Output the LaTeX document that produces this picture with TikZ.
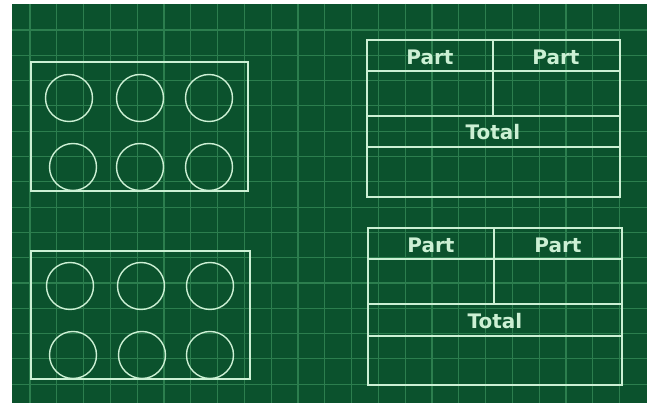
\documentclass[tikz,border=0pt]{standalone}
\usepackage{fontspec}
\newfontfamily\boardfont{DejaVu Sans}
\usetikzlibrary{positioning}
\definecolor{BoardGreen}{RGB}{11,82,45}
\definecolor{GridGreen}{RGB}{44,126,78}
\definecolor{ChalkWhite}{RGB}{204,240,212}
\tikzset{
  board/.style={fill=BoardGreen,draw=none},
  gridline/.style={draw=GridGreen,line width=1.1pt},
  chalk/.style={draw=ChalkWhite,line width=1.6pt},
  counter/.style={draw=ChalkWhite,line width=1.4pt},
  cell/.style={text=ChalkWhite,font=\boardfont\bfseries\fontsize{20}{23}\selectfont,
    inner sep=0pt}
}

\begin{document}
\begin{tikzpicture}[x=1pt,y=-1pt]
  \useasboundingbox (0,0) rectangle (649,403);
  \fill[white] (0,0) rectangle (649,403);
  \path[board] (12,4) rectangle (647,403);
  \foreach \gx in {0,...,22}
    \draw[gridline] ({30+26.8*\gx},4) -- ({30+26.8*\gx},403);
  \foreach \gy in {0,...,14}
    \draw[gridline] (12,{30+25.3*\gy}) -- (647,{30+25.3*\gy});

  % counters
  \draw[chalk] (31,62) rectangle (248,191);
  \foreach \cx/\cy in {69/98,140/98,209/98,73/167,140/167,209/167}
    \draw[counter] (\cx,\cy) circle[radius=23.5pt];
  \draw[chalk] (31,251) rectangle (250,379);
  \foreach \cx/\cy in {70/286,141/286,210/286,73/355,142/355,210/355}
    \draw[counter] (\cx,\cy) circle[radius=23.5pt];

  % part-part-total tables
  \draw[chalk] (367,40) rectangle (620,197);
  \draw[chalk] (367,71) -- (620,71) (367,116) -- (620,116) (367,147) -- (620,147)
    (493,40) -- (493,116);
  \node[cell] (partA) at (430,57) {Part};
  \node[cell] (partB) at (556,57) {Part};
  \node[cell] (totalA) at (493,132) {Total};

  \draw[chalk] (368,228) rectangle (622,385);
  \draw[chalk] (368,259) -- (622,259) (368,304) -- (622,304) (368,336) -- (622,336)
    (494,228) -- (494,304);
  \node[cell] (partC) at (431,245) {Part};
  \node[cell] (partD) at (558,245) {Part};
  \node[cell] (totalB) at (495,321) {Total};
\end{tikzpicture}
\end{document}
